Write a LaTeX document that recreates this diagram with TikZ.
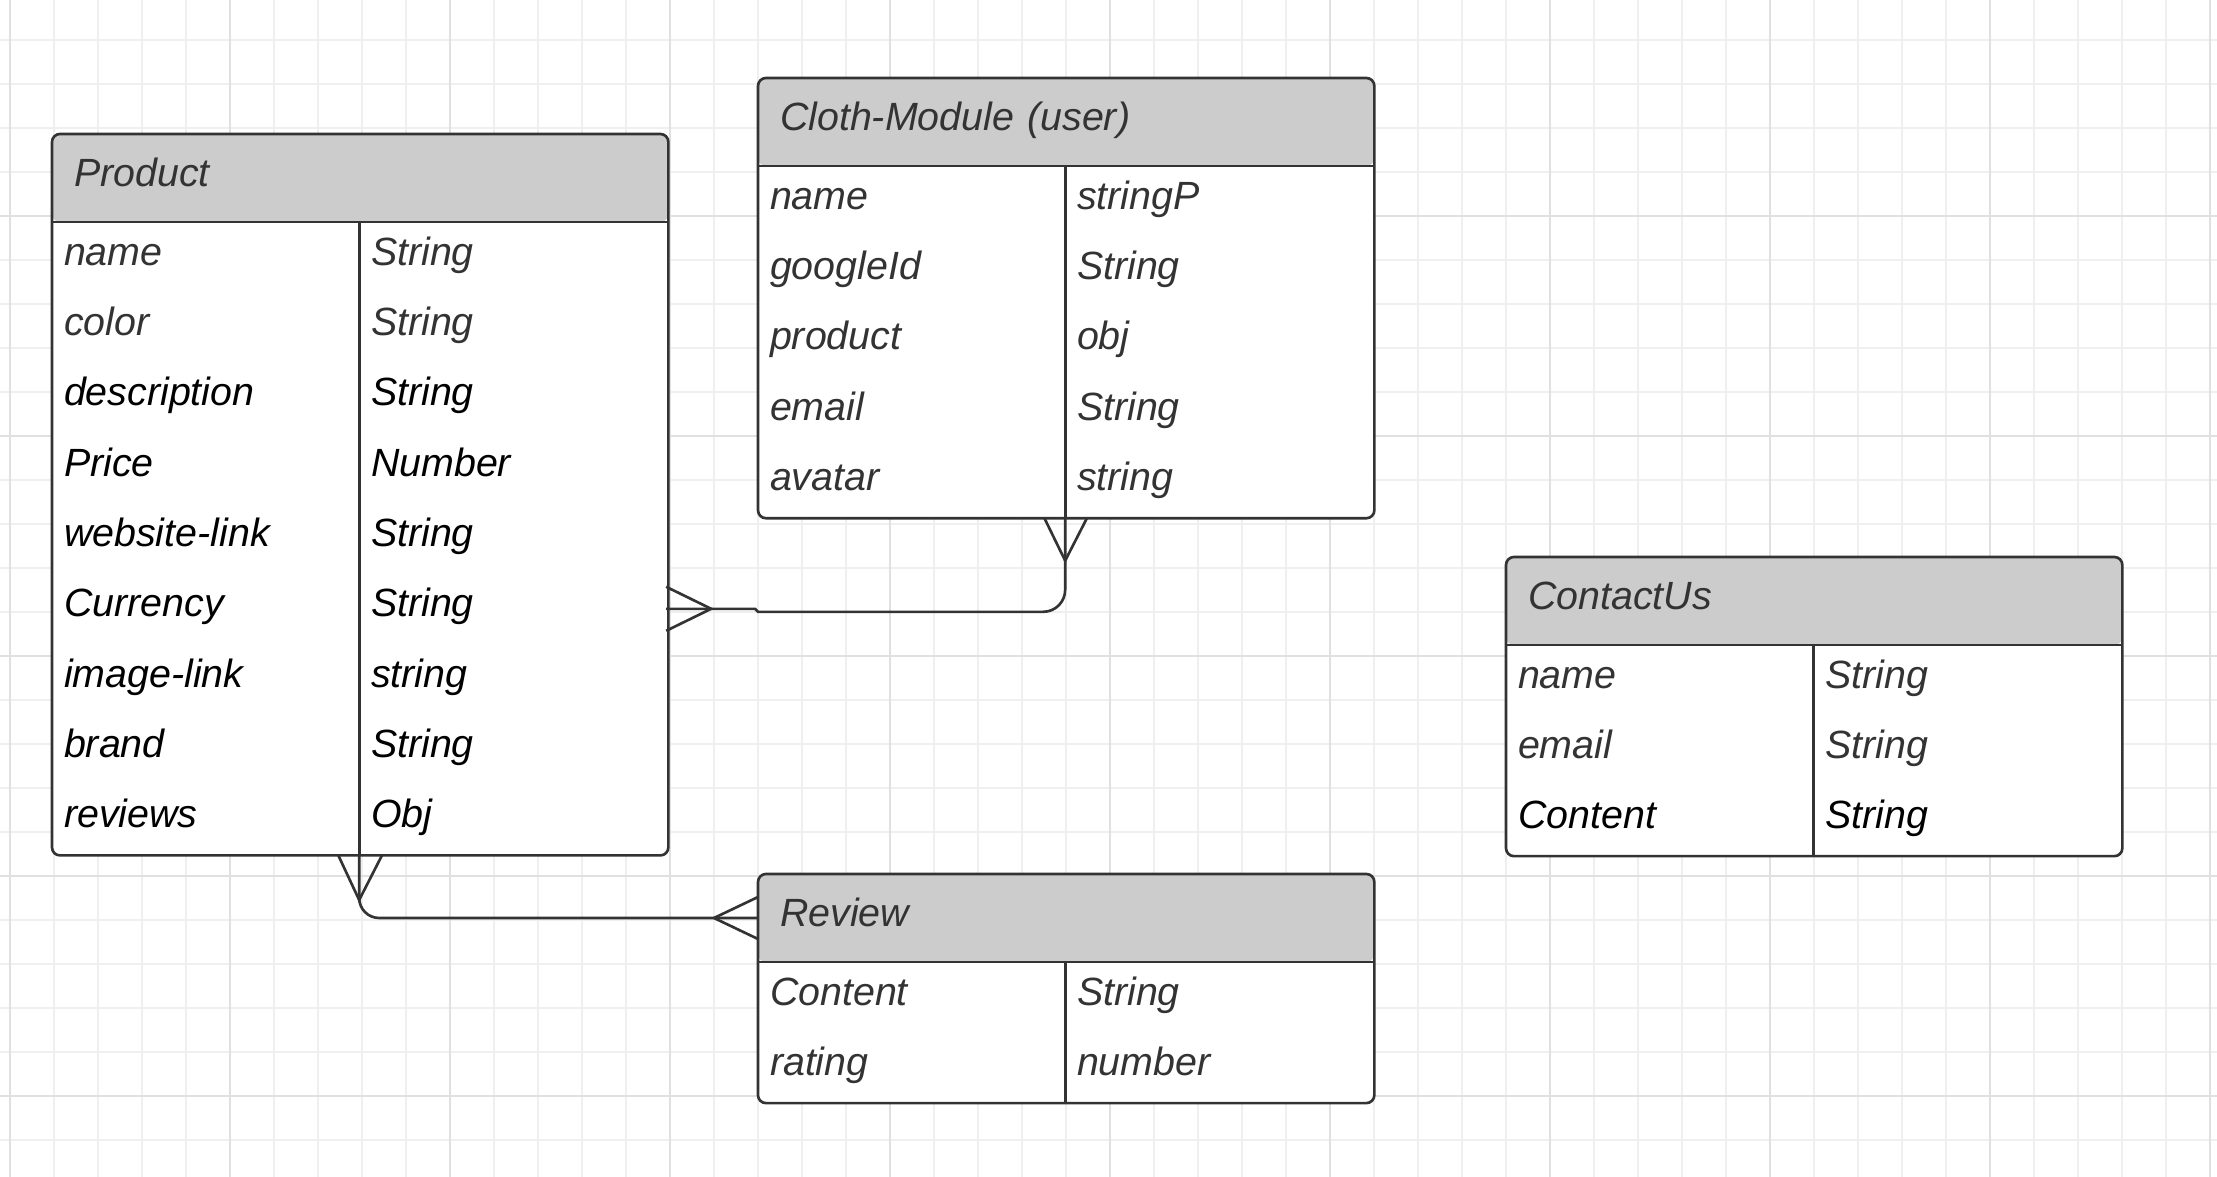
\documentclass[tikz,border=0pt]{standalone}
\usepackage{fontspec}
\setmainfont{Liberation Sans}
\usetikzlibrary{calc}
\definecolor{linec}{HTML}{333333}
\definecolor{txtg}{HTML}{333333}
\definecolor{hdrfill}{HTML}{CCCCCC}
\definecolor{gridmin}{HTML}{EFEFEF}
\definecolor{gridmaj}{HTML}{E0E0E0}
\begin{document}
\begin{tikzpicture}[x=0.01cm,y=-0.01cm,
    ln/.style={draw=linec,line width=0.75pt},
    tbl/.style={draw=linec,line width=0.75pt,fill=white,rounded corners=0.08cm,
      minimum width=6.16cm,anchor=north west,inner sep=0pt,outer sep=0pt,
      path picture={\fill[hdrfill] (path picture bounding box.north west)
        rectangle ([yshift=-0.88cm]path picture bounding box.north east);}},
    ttl/.style={anchor=north west,minimum width=6.16cm,minimum height=0.88cm,
      inner xsep=0.22cm,inner ysep=0pt,outer sep=0pt,text width=5.72cm,align=left,
      text height=0.28cm,text depth=0.12cm,text=txtg,font=\fontsize{11.2pt}{13pt}\selectfont\itshape},
    cell/.style={anchor=north west,minimum width=3.07cm,minimum height=0.7033cm,
      inner xsep=0.12cm,inner ysep=0pt,outer sep=0pt,text width=2.83cm,align=left,
      text height=0.28cm,text depth=0.12cm,font=\fontsize{11.2pt}{13pt}\selectfont\itshape}]

    \fill[white] (0,0) rectangle (2217,1177);
    \useasboundingbox (0,0) rectangle (2217,1177);
    \foreach \gx in {10,54,...,2217} \draw[gridmin,line width=0.3pt] (\gx,0) -- (\gx,1177);
    \foreach \gy in {40,84,...,1177} \draw[gridmin,line width=0.3pt] (0,\gy) -- (2217,\gy);
    \foreach \gx in {10,230,...,2217} \draw[gridmaj,line width=0.3pt] (\gx,0) -- (\gx,1177);
    \foreach \gy in {216,436,...,1177} \draw[gridmaj,line width=0.3pt] (0,\gy) -- (2217,\gy);

    % Product
    \node[tbl,minimum height=7.21cm] (product) at (52,134) {};
    \node[ttl] (product-h) at (product.north west) {Product};
    \foreach \k/\t/\c [count=\i] in {name/String/txtg,color/String/txtg,description/String/black,
        Price/Number/black,website-link/String/black,Currency/String/black,
        image-link/string/black,brand/String/black,reviews/Obj/black} {
      \node[cell,text=\c] (product-k\i) at ($(product.north west)+(0,{88+70.33*(\i-1)})$) {\k};
      \node[cell,text=\c] (product-v\i) at ($(product.north west)+(307,{88+70.33*(\i-1)})$) {\t};
    }
    \draw[ln] (product-h.south west) -- (product-h.south east);
    \draw[ln] (product-k1.north east) -- (product-k9.south east);

    % Cloth-Module
    \node[tbl,minimum height=4.4cm] (cloth) at (758,78) {};
    \node[ttl] (cloth-h) at (cloth.north west) {Cloth-Module (user)};
    \foreach \k/\t [count=\i] in {name/stringP,googleId/String,product/obj,email/String,avatar/string} {
      \node[cell,text=txtg] (cloth-k\i) at ($(cloth.north west)+(0,{88+70.33*(\i-1)})$) {\k};
      \node[cell,text=txtg] (cloth-v\i) at ($(cloth.north west)+(307,{88+70.33*(\i-1)})$) {\t};
    }
    \draw[ln] (cloth-h.south west) -- (cloth-h.south east);
    \draw[ln] (cloth-k1.north east) -- (cloth-k5.south east);

    % ContactUs
    \node[tbl,minimum height=2.99cm] (contact) at (1506,557) {};
    \node[ttl] (contact-h) at (contact.north west) {ContactUs};
    \foreach \k/\t/\c [count=\i] in {name/String/txtg,email/String/txtg,Content/String/black} {
      \node[cell,text=\c] (contact-k\i) at ($(contact.north west)+(0,{88+70.33*(\i-1)})$) {\k};
      \node[cell,text=\c] (contact-v\i) at ($(contact.north west)+(307,{88+70.33*(\i-1)})$) {\t};
    }
    \draw[ln] (contact-h.south west) -- (contact-h.south east);
    \draw[ln] (contact-k1.north east) -- (contact-k3.south east);

    % Review
    \node[tbl,minimum height=2.29cm] (review) at (758,874) {};
    \node[ttl] (review-h) at (review.north west) {Review};
    \foreach \k/\t [count=\i] in {Content/String,rating/number} {
      \node[cell,text=txtg] (review-k\i) at ($(review.north west)+(0,{88+70.33*(\i-1)})$) {\k};
      \node[cell,text=txtg] (review-v\i) at ($(review.north west)+(307,{88+70.33*(\i-1)})$) {\t};
    }
    \draw[ln] (review-h.south west) -- (review-h.south east);
    \draw[ln] (review-k1.north east) -- (review-k2.south east);

    % relations
    \draw[ln] (product-v6.east) -- ++(89,0) -- ++(3,3) [rounded corners=0.22cm] -| (cloth-k5.south east);
    \draw[ln] ([yshift=0.22cm]product-v6.east) -- ++(45,22) -- ++(-45,22);
    \draw[ln] ([xshift=-0.21cm]cloth-k5.south east) -- ++(21,43) -- ++(22,-43);
    \draw[ln,rounded corners=0.2cm] (product-k9.south east) |- (review-h.west);
    \draw[ln] ([xshift=-0.21cm]product-k9.south east) -- ++(21,45) -- ++(23,-45);
    \draw[ln] ([yshift=0.21cm]review-h.west) -- ++(-44,21) -- ++(44,21);
\end{tikzpicture}
\end{document}
